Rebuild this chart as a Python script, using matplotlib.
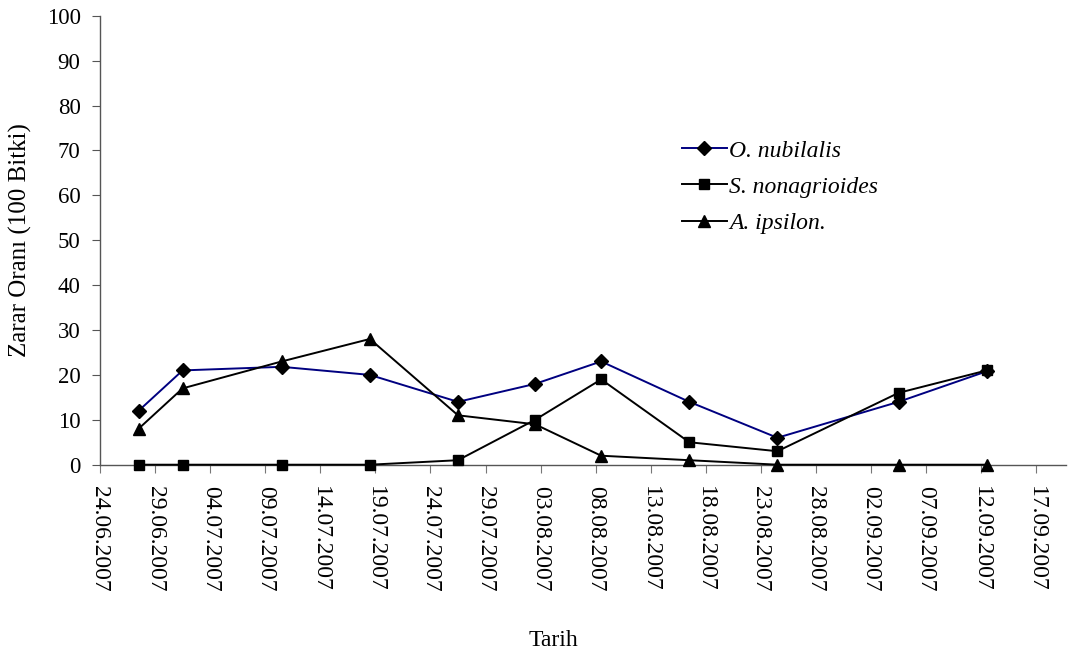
import pandas as pd
import numpy as np
import matplotlib
matplotlib.use('Agg')
import matplotlib.pyplot as plt
import matplotlib.dates as mdates

# --- data ---
dates = ['27.06.2007', '01.07.2007', '10.07.2007', '18.07.2007', '26.07.2007',
         '02.08.2007', '08.08.2007', '16.08.2007', '24.08.2007', '04.09.2007',
         '12.09.2007']
o_nubilalis = [12, 21, 21.8, 20, 14, 18, 23, 14, 6, 14, 20.8]
s_nonagrioides = [0, 0, 0, 0, 1, 10, 19, 5, 3, 16, 21]
a_ipsilon = [8, 17, 23, 28, 11, 9, 2, 1, 0, 0, 0]

tick_start = '24.06.2007'
tick_end = '17.09.2007'

plt.rcParams['font.family'] = ['Liberation Serif', 'DejaVu Serif']

# points sit in the middle of their day slot (Excel date axis)
x = pd.to_datetime(dates, format='%d.%m.%Y') + pd.Timedelta(hours=12)
t0 = pd.to_datetime(tick_start, format='%d.%m.%Y')
t1 = pd.to_datetime(tick_end, format='%d.%m.%Y')
ticks = pd.date_range(t0, t1, freq='5D')

fig = plt.figure(figsize=(10.69, 6.61), dpi=100)
ax = fig.add_axes([100 / 1069, 196.3 / 661, 966 / 1069, 449 / 661])

ax.plot(x, o_nubilalis, color='#000080', lw=1.4, marker='D', ms=7.5,
        mfc='black', mec='black', label='O. nubilalis', clip_on=False, zorder=3)
ax.plot(x, s_nonagrioides, color='black', lw=1.4, marker='s', ms=7.5,
        mfc='black', mec='black', label='S. nonagrioides', clip_on=False, zorder=3)
ax.plot(x, a_ipsilon, color='black', lw=1.4, marker='^', ms=9,
        mfc='black', mec='black', label='A. ipsilon.', clip_on=False, zorder=3)

ax.set_ylim(0, 100)
ax.set_yticks(np.arange(0, 101, 10))
ax.set_xlim(t0, t0 + pd.Timedelta(days=87.7))
ax.set_xticks(ticks)
ax.xaxis.set_major_formatter(mdates.DateFormatter('%d.%m.%Y'))

for s in ['top', 'right']:
    ax.spines[s].set_visible(False)
for s in ['left', 'bottom']:
    ax.spines[s].set_color('#555555')
    ax.spines[s].set_linewidth(1.0)

ax.tick_params(axis='y', direction='out', length=6, color='#555555',
               labelsize=16.5, pad=8)
ax.tick_params(axis='x', direction='out', length=6, color='#777777',
               labelsize=17, pad=9, labelrotation=-90)
for lbl in ax.get_xticklabels():
    lbl.set_va('top')
    lbl.set_ha('center')

fig.text(20 / 1069, 1 - 240 / 661, 'Zarar Oranı (100 Bitki)', fontsize=18,
         rotation=90, ha='center', va='center')
fig.text(553 / 1069, 1 - 640 / 661, 'Tarih', fontsize=17, ha='center', va='center')

leg = ax.legend(loc='upper left', bbox_to_anchor=(682 / 1069, 1 - 140 / 661),
                bbox_transform=fig.transFigure, frameon=False,
                prop={'style': 'italic', 'size': 17, 'family': 'Liberation Serif'},
                handlelength=1.9, handletextpad=0.1, labelspacing=0.62,
                borderpad=0, borderaxespad=0)

fig.savefig('out.png', dpi=100)
